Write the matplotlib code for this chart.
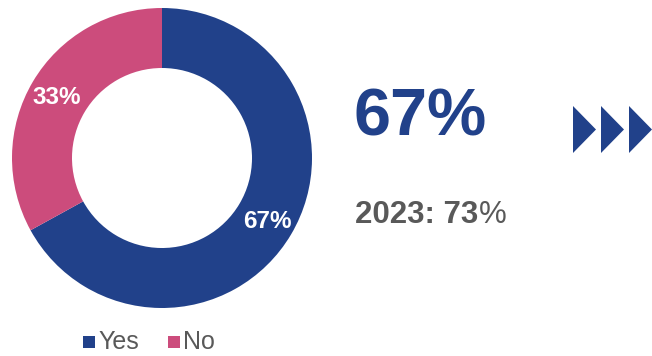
import matplotlib.pyplot as plt
from matplotlib.patches import Polygon, Rectangle

plt.rcParams['font.family'] = ['Liberation Sans', 'DejaVu Sans']

labels = ['Yes', 'No']
shares = [67, 33]
colors = ['#21418A', '#CC4C7C']
headline = '67%'
prior_year = '2023'
prior_value = '73'

W, H = 652, 356
fig = plt.figure(figsize=(W / 100, H / 100), dpi=100)

# donut
ax = fig.add_axes([12 / W, 1 - 308 / H, 300 / W, 300 / H])
wedges, texts = ax.pie(shares, colors=colors, startangle=90, counterclock=False,
                       radius=1.0, wedgeprops=dict(width=0.4, linewidth=0))
ax.set_aspect('equal')
ax.set_xlim(-1, 1)
ax.set_ylim(-1, 1)
ax.axis('off')
ax.text(0.70, -0.42, f'{shares[0]}%', color='white', fontsize=17.5, fontweight='bold',
        ha='center', va='center')
ax.text(-0.70, 0.40, f'{shares[1]}%', color='white', fontsize=17.5, fontweight='bold',
        ha='center', va='center')

# overlay in pixel coords
ov = fig.add_axes([0, 0, 1, 1])
ov.set_xlim(0, W)
ov.set_ylim(H, 0)
ov.axis('off')

ov.text(353, 118, headline, color=colors[0], fontsize=48, fontweight='bold',
        ha='left', va='center')
t = ov.text(355, 215, f'{prior_year}: {prior_value}', color='#595959', fontsize=22.5,
            fontweight='bold', ha='left', va='center')
fig.canvas.draw()
bb = t.get_window_extent()
ov.text(bb.x1 / W + 0.001, 1 - 215 / H, '%', color='#595959', fontsize=22.5,
        ha='left', va='center', transform=fig.transFigure)

for x0 in [573, 601, 629]:
    ov.add_patch(Polygon([[x0, 106], [x0, 153], [x0 + 23, 129.5]], closed=True,
                         color=colors[0], lw=0))

# legend
lx = [83, 168]
for x0, lab, c in zip(lx, labels, colors):
    ov.add_patch(Rectangle((x0, 336), 12, 12, color=c, lw=0))
    ov.text(x0 + 15, 342, lab, color='#595959', fontsize=18, ha='left', va='center')

fig.savefig('out.png', dpi=100)
